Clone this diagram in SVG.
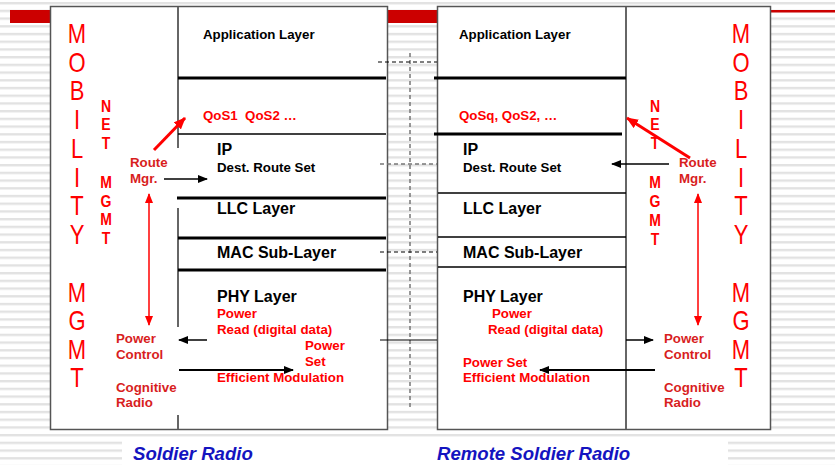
<svg xmlns="http://www.w3.org/2000/svg" width="835" height="465" viewBox="0 0 835 465">
<defs>
<pattern id="stripes" patternUnits="userSpaceOnUse" x="0" y="2" width="10" height="7.714">
<rect x="0" y="0" width="10" height="7.714" fill="#ffffff"/>
<rect x="0" y="0" width="10" height="2" fill="#e2e2e2"/>
<rect x="0" y="2" width="10" height="0.8" fill="#efefef"/>
</pattern>
<marker id="ab" markerUnits="userSpaceOnUse" markerWidth="10" markerHeight="8" refX="9" refY="4" orient="auto">
<path d="M0,0 L10,4 L0,8 Z" fill="#000"/>
</marker>
<marker id="ar" markerUnits="userSpaceOnUse" markerWidth="12" markerHeight="10" refX="11" refY="5" orient="auto">
<path d="M0,0 L12,5 L0,10 Z" fill="#ff0000"/>
</marker>
<marker id="ars" markerUnits="userSpaceOnUse" markerWidth="10" markerHeight="8" refX="9" refY="4" orient="auto-start-reverse">
<path d="M0,0 L10,4 L0,8 Z" fill="#ff0000"/>
</marker>
</defs>
<style>
.box{fill:#fff;stroke:#555;stroke-width:1.5}
.div{stroke:#666;stroke-width:2;fill:none}
.thick{stroke:#000;stroke-width:3}
.thin{stroke:#000;stroke-width:1.5}
.t{font-family:"Liberation Sans",Arial,sans-serif;font-weight:bold;fill:#000}
.t13{font-size:13.3px}
.t16{font-size:16px}
.r{font-family:"Liberation Sans",Arial,sans-serif;font-weight:bold;font-size:13.3px;fill:#ff0000}
.rd{font-family:"Liberation Sans",Arial,sans-serif;font-weight:bold;font-size:13.3px;fill:#d81e1e}
.mob{font-family:"Liberation Sans",Arial,sans-serif;font-size:22px;fill:#ff0000;text-anchor:middle}
.net{font-family:"Liberation Sans",Arial,sans-serif;font-weight:bold;font-size:14px;fill:#ff0000;text-anchor:middle}
.cap{font-family:"Liberation Sans",Arial,sans-serif;font-weight:bold;font-style:italic;font-size:18.6px;fill:#1414c0}
.ba{stroke:#000;stroke-width:1.5;fill:none;marker-end:url(#ab)}
.ba2{stroke:#000;stroke-width:2;fill:none;marker-end:url(#ab)}
.ra{stroke:#ff0000;stroke-width:3;fill:none;marker-end:url(#ar)}
.rv{stroke:#ff0000;stroke-width:1.5;fill:none;marker-start:url(#ars);marker-end:url(#ars)}
.dash{stroke:#000;stroke-width:1;stroke-dasharray:4 3;fill:none}
.gdash{stroke:#777;stroke-width:1.5;stroke-dasharray:4 3;fill:none}
</style>
<rect x="0" y="0" width="835" height="465" fill="url(#stripes)"/>
<rect x="122" y="437" width="606" height="28" fill="#fff"/>
<rect x="10" y="10" width="600" height="13" fill="#cc0000"/>
<rect x="600" y="10" width="235" height="2.5" fill="#cc0000"/>

<g id="soldier-radio">
<rect class="box" x="50.5" y="6.5" width="337" height="423"/>
<path class="div" d="M178,7 V148 M178,208 V327 M178,415 V429"/>
<line class="thick" x1="178" y1="78" x2="386" y2="78"/>
<line class="thin" x1="178" y1="134" x2="386" y2="134"/>
<line class="thick" x1="177" y1="198" x2="386" y2="198"/>
<line class="thick" x1="178" y1="238" x2="386" y2="238"/>
<line class="thick" x1="178" y1="270" x2="386" y2="270"/>
<g id="l-mobility">
<text class="mob" transform="translate(77,43) scale(1,1.22)">M</text>
<text class="mob" transform="translate(77,72) scale(1,1.22)">O</text>
<text class="mob" transform="translate(77,100) scale(1,1.22)">B</text>
<text class="mob" transform="translate(77,129) scale(1,1.22)">I</text>
<text class="mob" transform="translate(77,158) scale(1,1.22)">L</text>
<text class="mob" transform="translate(77,187) scale(1,1.22)">I</text>
<text class="mob" transform="translate(77,215) scale(1,1.22)">T</text>
<text class="mob" transform="translate(77,244) scale(1,1.22)">Y</text>
<text class="mob" transform="translate(77,302) scale(1,1.22)">M</text>
<text class="mob" transform="translate(77,330) scale(1,1.22)">G</text>
<text class="mob" transform="translate(77,359) scale(1,1.22)">M</text>
<text class="mob" transform="translate(77,387) scale(1,1.22)">T</text>
</g>
<g id="l-netmgmt">
<text class="net" transform="translate(106,112) scale(1,1.17)">N</text>
<text class="net" transform="translate(106,130) scale(1,1.17)">E</text>
<text class="net" transform="translate(106,149) scale(1,1.17)">T</text>
<text class="net" transform="translate(106,188) scale(1,1.17)">M</text>
<text class="net" transform="translate(106,207) scale(1,1.17)">G</text>
<text class="net" transform="translate(106,225) scale(1,1.17)">M</text>
<text class="net" transform="translate(106,244) scale(1,1.17)">T</text>
</g>
<g id="l-route-mgr"><text class="rd" x="130" y="167">Route</text><text class="rd" x="130" y="183">Mgr.</text></g>
<g id="l-power-control"><text class="rd" x="116" y="343">Power</text><text class="rd" x="116" y="359">Control</text></g>
<g id="l-cognitive"><text class="rd" x="116" y="392">Cognitive</text><text class="rd" x="116" y="407">Radio</text></g>
<g id="l-app"><text class="t t13" x="203" y="39">Application Layer</text></g>
<g id="l-qos"><text class="r" x="203" y="120" xml:space="preserve">QoS1  QoS2 …</text></g>
<g id="l-ip"><text class="t t16" x="217" y="155">IP</text><text class="t t13" x="217" y="172">Dest. Route Set</text></g>
<g id="l-llc"><text class="t t16" x="217" y="214">LLC Layer</text></g>
<g id="l-mac"><text class="t t16" x="217" y="258">MAC Sub-Layer</text></g>
<g id="l-phy">
<text class="t t16" x="217" y="302">PHY Layer</text>
<text class="r" x="217" y="318">Power</text>
<text class="r" x="217" y="334">Read (digital data)</text>
<text class="r" x="305" y="350">Power</text>
<text class="r" x="305" y="366">Set</text>
<text class="r" x="217" y="382">Efficient Modulation</text>
</g>
<text class="cap" x="133" y="460">Soldier Radio</text>
</g>

<g id="remote-soldier-radio">
<rect class="box" x="437.5" y="6.5" width="333" height="423"/>
<line class="div" x1="626" y1="7" x2="626" y2="429"/>
<line class="thick" x1="434" y1="78" x2="626" y2="78"/>
<line class="thick" x1="434" y1="134" x2="622" y2="134"/>
<line class="thin" x1="438" y1="193" x2="626" y2="193"/>
<line class="thin" x1="438" y1="237" x2="626" y2="237"/>
<line class="thin" x1="438" y1="267" x2="626" y2="267"/>
<g id="r-mobility">
<text class="mob" transform="translate(741,43) scale(1,1.22)">M</text>
<text class="mob" transform="translate(741,72) scale(1,1.22)">O</text>
<text class="mob" transform="translate(741,100) scale(1,1.22)">B</text>
<text class="mob" transform="translate(741,129) scale(1,1.22)">I</text>
<text class="mob" transform="translate(741,158) scale(1,1.22)">L</text>
<text class="mob" transform="translate(741,187) scale(1,1.22)">I</text>
<text class="mob" transform="translate(741,215) scale(1,1.22)">T</text>
<text class="mob" transform="translate(741,244) scale(1,1.22)">Y</text>
<text class="mob" transform="translate(741,302) scale(1,1.22)">M</text>
<text class="mob" transform="translate(741,330) scale(1,1.22)">G</text>
<text class="mob" transform="translate(741,359) scale(1,1.22)">M</text>
<text class="mob" transform="translate(741,387) scale(1,1.22)">T</text>
</g>
<g id="r-netmgmt">
<text class="net" transform="translate(655,112) scale(1,1.17)">N</text>
<text class="net" transform="translate(655,130) scale(1,1.17)">E</text>
<text class="net" transform="translate(655,149) scale(1,1.17)">T</text>
<text class="net" transform="translate(655,188) scale(1,1.17)">M</text>
<text class="net" transform="translate(655,207) scale(1,1.17)">G</text>
<text class="net" transform="translate(655,226) scale(1,1.17)">M</text>
<text class="net" transform="translate(655,245) scale(1,1.17)">T</text>
</g>
<g id="r-route-mgr"><text class="rd" x="679" y="167">Route</text><text class="rd" x="679" y="183">Mgr.</text></g>
<g id="r-power-control"><text class="rd" x="664" y="343">Power</text><text class="rd" x="664" y="359">Control</text></g>
<g id="r-cognitive"><text class="rd" x="664" y="392">Cognitive</text><text class="rd" x="664" y="407">Radio</text></g>
<g id="r-app"><text class="t t13" x="459" y="39">Application Layer</text></g>
<g id="r-qos"><text class="r" x="459" y="120">QoSq, QoS2, …</text></g>
<g id="r-ip"><text class="t t16" x="463" y="155">IP</text><text class="t t13" x="463" y="172">Dest. Route Set</text></g>
<g id="r-llc"><text class="t t16" x="463" y="214">LLC Layer</text></g>
<g id="r-mac"><text class="t t16" x="463" y="258">MAC Sub-Layer</text></g>
<g id="r-phy">
<text class="t t16" x="463" y="302">PHY Layer</text>
<text class="r" x="492" y="318">Power</text>
<text class="r" x="488" y="334">Read (digital data)</text>
<text class="r" x="463" y="367">Power Set</text>
<text class="r" x="463" y="382">Efficient Modulation</text>
</g>
<text class="cap" x="437" y="460">Remote Soldier Radio</text>
</g>

<g id="connectors">
<line class="gdash" x1="410" y1="53" x2="410" y2="407"/>
<line class="dash" x1="378" y1="62" x2="437" y2="62"/>
<line class="gdash" x1="380" y1="164" x2="437" y2="164"/>
<line class="dash" x1="380" y1="252" x2="437" y2="252"/>
<line stroke="#000" stroke-width="1" x1="380" y1="340" x2="437" y2="340"/>
<line class="ba" x1="164" y1="179" x2="207" y2="179"/>
<line class="ra" x1="154" y1="150" x2="185" y2="118"/>
<line class="rv" x1="149" y1="194" x2="149" y2="325"/>
<line class="ba" x1="207" y1="340" x2="179" y2="340"/>
<line class="ba2" x1="179" y1="370" x2="293" y2="370"/>
<line class="ba" x1="669" y1="164" x2="612" y2="164"/>
<line class="ra" x1="690" y1="158" x2="627" y2="118"/>
<line class="rv" x1="698" y1="194" x2="698" y2="325"/>
<line class="ba" x1="626" y1="340" x2="653" y2="340"/>
<line class="ba2" x1="655" y1="370" x2="540" y2="370"/>
</g>
</svg>
